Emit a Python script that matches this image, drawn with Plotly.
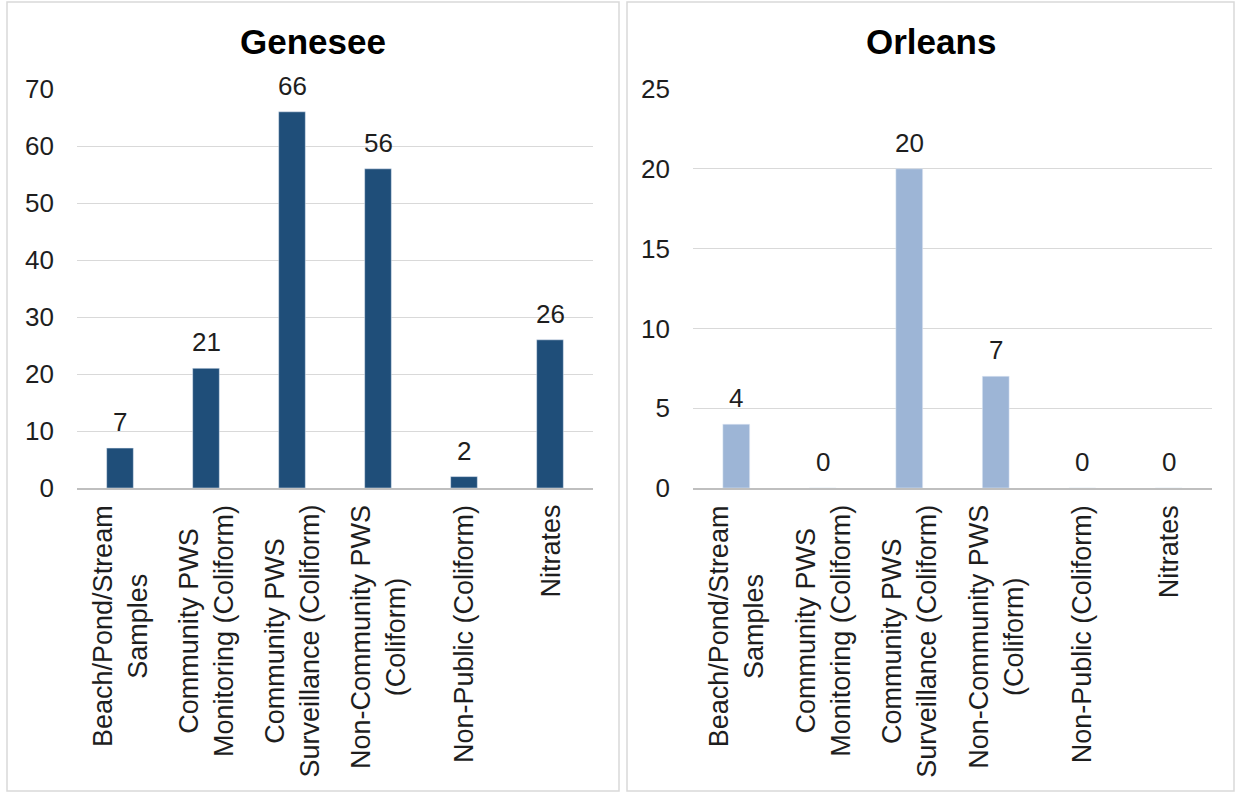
import plotly.graph_objects as go

categories = ["Beach/Pond/Stream Samples", "Community PWS Monitoring (Coliform)",
              "Community PWS Surveillance (Coliform)", "Non-Community PWS (Coliform)",
              "Non-Public (Coliform)", "Nitrates"]
tick_labels = ["Beach/Pond/Stream<br>Samples", "Community PWS<br>Monitoring (Coliform)",
               "Community PWS<br>Surveillance (Coliform)", "Non-Community PWS<br>(Coliform)",
               "Non-Public (Coliform)", "Nitrates"]
genesee = [7, 21, 66, 56, 2, 26]
orleans = [4, 0, 20, 7, 0, 0]

W, H = 1238, 793
FONT = "Liberation Sans, Arial, sans-serif"
TXT = "#1e1e1e"


def px(x):
    return x / W


def py(y):
    return 1 - y / H


fig = go.Figure()
fig.add_trace(go.Bar(x=categories, y=genesee, marker_color="#1F4E79", width=0.31,
                     xaxis="x", yaxis="y", hoverinfo="skip"))
fig.add_trace(go.Bar(x=categories, y=orleans, marker_color="#9DB5D6", width=0.31,
                     xaxis="x2", yaxis="y2", hoverinfo="skip"))

annotations = []
for xa, ya, vals in (("x", "y", genesee), ("x2", "y2", orleans)):
    for c, v, lab in zip(categories, vals, tick_labels):
        annotations.append(dict(x=c, y=v, xref=xa, yref=ya, text=str(v), showarrow=False,
                                yanchor="bottom", xanchor="center", yshift=9,
                                font=dict(family=FONT, size=26, color=TXT)))
        annotations.append(dict(x=c, y=py(503), xref=xa, yref="paper", text=lab,
                                showarrow=False, textangle=-90, align="center",
                                xanchor="center", yanchor="top",
                                font=dict(family=FONT, size=27, color=TXT)))

annotations.append(dict(x=px(313), y=py(41), xref="paper", yref="paper", text="<b>Genesee</b>",
                        showarrow=False, xanchor="center", yanchor="middle",
                        font=dict(family=FONT, size=35, color="#000000")))
annotations.append(dict(x=px(931), y=py(41), xref="paper", yref="paper", text="<b>Orleans</b>",
                        showarrow=False, xanchor="center", yanchor="middle",
                        font=dict(family=FONT, size=35, color="#000000")))

shapes = [
    dict(type="rect", xref="paper", yref="paper", x0=px(7), x1=px(619), y0=py(791), y1=py(2),
         line=dict(color="#D9D9D9", width=1.5), layer="below"),
    dict(type="rect", xref="paper", yref="paper", x0=px(627), x1=px(1234), y0=py(791), y1=py(2),
         line=dict(color="#D9D9D9", width=1.5), layer="below"),
]

yd = [py(488), py(89)]
common_y = dict(showgrid=True, gridcolor="#D9D9D9", gridwidth=1, zeroline=False,
                showline=False, ticks="", ticklabelstandoff=22, automargin=False,
                tickfont=dict(family=FONT, size=26, color=TXT), fixedrange=True)
common_x = dict(showticklabels=False, showgrid=False, zeroline=False, showline=True,
                linecolor="#BFBFBF", linewidth=1.5, ticks="", fixedrange=True,
                automargin=False)

fig.update_layout(
    width=W, height=H, autosize=False,
    margin=dict(l=0, r=0, t=0, b=0, pad=0, autoexpand=False),
    paper_bgcolor="white", plot_bgcolor="white",
    showlegend=False,
    xaxis=dict(domain=[px(77), px(593)], anchor="y", **common_x),
    yaxis=dict(domain=yd, range=[0, 70], dtick=10, anchor="x", **common_y),
    xaxis2=dict(domain=[px(693), px(1212)], anchor="y2", **common_x),
    yaxis2=dict(domain=yd, range=[0, 25], dtick=5, anchor="x2", **common_y),
    annotations=annotations,
    shapes=shapes,
    font=dict(family=FONT),
)

fig.write_html("out.html",
               config={"displayModeBar": False, "responsive": False},
               post_script="document.body.style.margin='0';document.body.style.padding='0';"
                           "document.body.style.overflow='hidden';window.scrollTo(0,0);")
